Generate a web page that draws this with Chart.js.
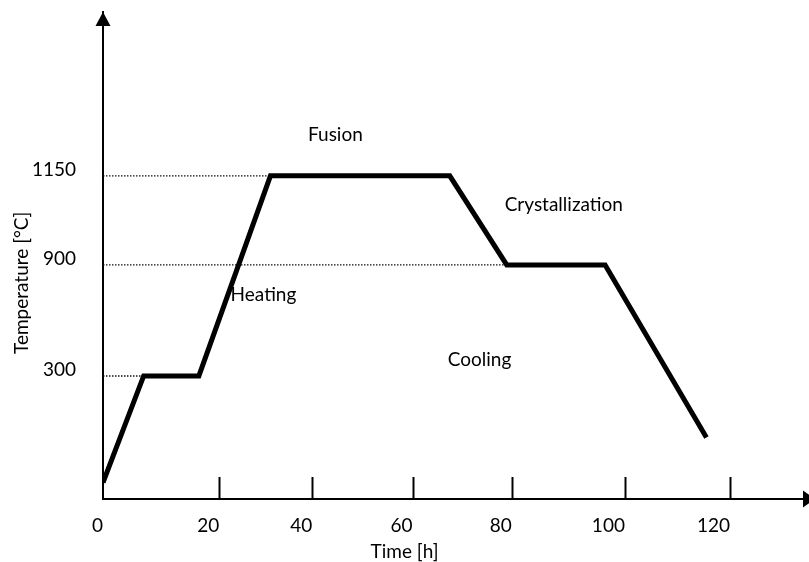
<!DOCTYPE html>
<html>
<head>
<meta charset="utf-8">
<script src="https://cdn.jsdelivr.net/npm/chart.js@4.4.0/dist/chart.umd.min.js"></script>
<style>
  html, body { margin: 0; padding: 0; background: #fff; }
  #wrap { width: 809px; height: 562px; }
</style>
</head>
<body>
<div id="wrap"><canvas id="process-chart"></canvas></div>
<script>
// Data //

const times = [0, 7, 16.5, 31, 67.5, 79, 96.5, 115.5];
const temps = [40, 300, 300, 1150, 1150, 900, 900, 150];

const timeTicks = [0, 20, 40, 60, 80, 100, 120];
const tempTicks = [300, 900, 1150];

const phaseNames = ['Fusion', 'Crystallization', 'Heating', 'Cooling'];
const phaseTimes = [44.6, 89.2, 29.5, 73.5];
const phaseTemps = [1265, 1069, 738, 386];

const timeTitle = 'Time [h]';
const tempTitle = 'Temperature [°C]';

// The drawing is a sketch: the axes are not evenly spaced,
// so each axis maps its values piece by piece.
const warps = {
  x: { from: [0, 20, 40, 60, 80, 100, 120], to: [0, 116, 209, 309, 408, 521, 626] },
  y: { from: [0, 300, 900, 1150], to: [0, 123, 234, 323] }
};

function warp(w, v) {
  const f = w.from, t = w.to;
  let i = 1;
  while (i < f.length - 1 && v > f[i]) i++;
  const a = i - 1;
  return t[a] + (v - f[a]) * (t[i] - t[a]) / (f[i] - f[a]);
}

class WarpScale extends Chart.LinearScale {
  getPixelForValue(value) {
    return super.getPixelForValue(warp(warps[this.id], value));
  }
}
WarpScale.id = 'warp';
WarpScale.defaults = {};
Chart.register(WarpScale);

const font = { family: 'Lato', size: 19 };
Chart.defaults.color = '#000';
Chart.defaults.font.family = font.family;
Chart.defaults.font.size = font.size;

// dotted guides from the axis to the first point at each level
const guides = tempTicks.map(v => ({
  data: [{ x: 0, y: v }, { x: times[temps.indexOf(v)], y: v }],
  borderColor: '#111',
  borderWidth: 1.4,
  borderDash: [1.5, 1.5],
  pointRadius: 0,
  order: 2
}));

const processData = {
  datasets: [{
    data: times.map((t, i) => ({ x: t, y: temps[i] })),
    borderColor: '#000',
    borderWidth: 5,
    borderJoinStyle: 'miter',
    borderCapStyle: 'butt',
    pointRadius: 0,
    tension: 0,
    order: 1
  }, ...guides]
};

// arrows, upward tick marks and the free text
const decorations = {
  id: 'decorations',
  afterDraw(chart) {
    const { ctx, scales: { x, y } } = chart;
    ctx.save();
    ctx.fillStyle = '#000';
    ctx.strokeStyle = '#000';

    // y arrow
    const ax = y.right;
    ctx.beginPath();
    ctx.moveTo(ax, y.top);
    ctx.lineTo(ax - 7.5, y.top + 14);
    ctx.lineTo(ax + 7.5, y.top + 14);
    ctx.closePath();
    ctx.fill();

    // x arrow
    const ay = x.top;
    ctx.beginPath();
    ctx.moveTo(x.right + 6, ay);
    ctx.lineTo(x.right - 6, ay - 8.5);
    ctx.lineTo(x.right - 6, ay + 8.5);
    ctx.closePath();
    ctx.fill();

    // tick marks pointing up
    ctx.lineWidth = 2;
    x.ticks.forEach((t, i) => {
      if (t.value === 0) return;
      const px = Math.round(x.getPixelForTick(i)) + 0.5;
      ctx.beginPath();
      ctx.moveTo(px, ay);
      ctx.lineTo(px, ay - 22);
      ctx.stroke();
    });

    ctx.font = font.size + 'px ' + font.family;
    ctx.textAlign = 'center';
    ctx.textBaseline = 'middle';
    phaseNames.forEach((name, i) => {
      ctx.fillText(name, x.getPixelForValue(phaseTimes[i]), y.getPixelForValue(phaseTemps[i]));
    });

    // axis titles
    ctx.fillText(timeTitle, x.getPixelForValue(58.4), x.top + 53);
    ctx.translate(22, y.getPixelForValue(803));
    ctx.rotate(-Math.PI / 2);
    ctx.fillText(tempTitle, 0, 0);
    ctx.restore();
  }
};

function noEdgePadding(scale) {
  scale.paddingTop = 0;
  scale.paddingBottom = 0;
  scale.paddingLeft = 0;
  scale.paddingRight = 0;
}

const processChart = new Chart(document.querySelector('#process-chart'), {
  type: 'line',
  data: processData,
  options: {
    responsive: true,
    maintainAspectRatio: false,
    animation: false,
    layout: { padding: { top: 12, right: 0, left: 0, bottom: 0 } },
    plugins: {
      legend: { display: false },
      tooltip: { enabled: false }
    },
    scales: {
      x: {
        type: 'warp',
        bounds: 'data',
        min: 0,
        max: warp(warps.x, 135),
        grid: { display: false },
        border: { display: true, color: '#000', width: 2 },
        ticks: { padding: 7, align: 'end', autoSkip: false, maxRotation: 0, callback: v => v },
        afterBuildTicks: scale => { scale.ticks = timeTicks.map(v => ({ value: v })); },
        afterFit: scale => { scale.height = 63; noEdgePadding(scale); }
      },
      y: {
        type: 'warp',
        bounds: 'data',
        min: 0,
        max: warp(warps.y, 1610),
        grid: { display: false },
        border: { display: true, color: '#000', width: 2 },
        ticks: { padding: 19, labelOffset: -6, autoSkip: false, callback: v => v },
        afterBuildTicks: scale => { scale.ticks = tempTicks.map(v => ({ value: v })); },
        afterFit: scale => { scale.width = 103; noEdgePadding(scale); }
      }
    }
  },
  plugins: [decorations]
});
</script>
</body>
</html>
